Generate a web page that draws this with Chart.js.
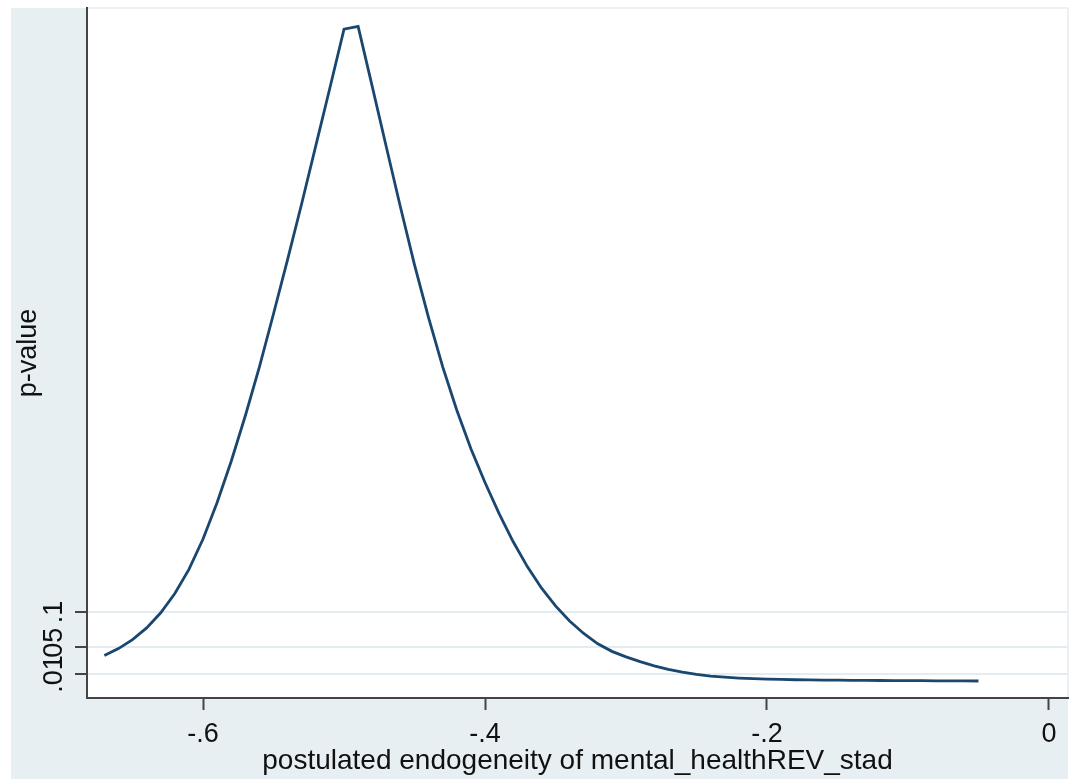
<!DOCTYPE html>
<html>
<head>
<meta charset="utf-8">
<script src="https://cdn.jsdelivr.net/npm/chart.js@4/dist/chart.umd.min.js"></script>
<style>
  html, body { margin: 0; padding: 0; background: #ffffff; }
  #wrap { width: 1074px; height: 779px; position: relative; }
</style>
</head>
<body>
<div id="wrap"><canvas id="c" width="1074" height="779"></canvas></div>
<script>
// postulated endogeneity values (x)
const endogeneity = [-0.67,-0.66,-0.65,-0.64,-0.63,-0.62,-0.61,-0.60,-0.59,-0.58,
  -0.57,-0.56,-0.55,-0.54,-0.53,-0.52,-0.51,-0.50,-0.49,-0.48,
  -0.47,-0.46,-0.45,-0.44,-0.43,-0.42,-0.41,-0.40,-0.39,-0.38,
  -0.37,-0.36,-0.35,-0.34,-0.33,-0.32,-0.31,-0.30,-0.29,-0.28,
  -0.27,-0.26,-0.25,-0.24,-0.23,-0.22,-0.21,-0.20,-0.19,-0.18,
  -0.17,-0.16,-0.15,-0.14,-0.13,-0.12,-0.11,-0.10,-0.09,-0.08,
  -0.07,-0.06,-0.05];
// p-values (y)
const pValues = [0.037,0.047,0.060,0.077,0.099,0.127,0.162,0.206,0.259,0.319,
  0.385,0.456,0.533,0.612,0.693,0.777,0.861,0.946,0.950,0.863,
  0.775,0.688,0.604,0.527,0.456,0.393,0.337,0.288,0.243,0.202,
  0.166,0.135,0.109,0.087,0.069,0.054,0.043,0.035,0.028,0.022,
  0.017,0.013,0.0095,0.0072,0.0055,0.0042,0.0033,0.0027,0.0022,0.0018,
  0.0015,0.0013,0.0011,0.0009,0.0008,0.0007,0.0006,0.0005,0.0004,0.0003,
  0.0002,0.0001,0.0000];
const xTickValues = [-0.6, -0.4, -0.2, 0];
const xTickLabels = ['-.6', '-.4', '-.2', '0'];
const yTickValues = [0.01, 0.05, 0.1];
const yTickLabels = ['.01', '.05', '.1'];
const xTitle = 'postulated endogeneity of mental_healthREV_stad';
const yTitle = 'p-value';

const points = endogeneity.map((x, i) => ({ x: x, y: pValues[i] }));
const FONT = 'Liberation Sans, Arial, Helvetica, sans-serif';

const bgPlugin = {
  id: 'stataBg',
  beforeDraw(chart) {
    const ctx = chart.ctx;
    const a = chart.chartArea;
    ctx.save();
    ctx.fillStyle = '#ffffff';
    ctx.fillRect(0, 0, chart.width, chart.height);
    ctx.fillStyle = '#e8eff2';
    ctx.fillRect(11, a.top, a.right - 11, chart.height - a.top);
    ctx.fillStyle = '#ffffff';
    ctx.fillRect(a.left, a.top, a.right - a.left, a.bottom - a.top);
    ctx.strokeStyle = '#e6edf0';
    ctx.lineWidth = 1.5;
    ctx.strokeRect(a.left, a.top, a.right - a.left, a.bottom - a.top);
    ctx.restore();
  }
};

new Chart(document.getElementById('c'), {
  type: 'line',
  data: {
    datasets: [{
      data: points,
      borderColor: '#1a476f',
      borderWidth: 2.8,
      pointRadius: 0,
      tension: 0,
      fill: false
    }]
  },
  options: {
    responsive: false,
    animation: false,
    layout: { padding: { top: 8, right: 6, left: 0, bottom: 0 } },
    plugins: { legend: { display: false }, tooltip: { enabled: false } },
    scales: {
      x: {
        type: 'linear',
        min: -0.6823,
        max: 0.0135,
        afterBuildTicks(scale) { scale.ticks = xTickValues.map(v => ({ value: v })); },
        afterFit(scale) {
          scale.height = 81;
          scale.paddingLeft = 0; scale.paddingRight = 0;
        },
        ticks: {
          color: '#111111',
          font: { family: FONT, size: 27 },
          padding: 8,
          maxRotation: 0,
          minRotation: 0,
          callback: (v) => xTickLabels[xTickValues.indexOf(Math.round(v * 10) / 10)] ?? ''
        },
        grid: {
          drawOnChartArea: false,
          drawTicks: true,
          tickLength: 12,
          tickWidth: 2,
          tickColor: '#444444'
        },
        border: { display: true, color: '#444444', width: 2 },
        title: {
          display: true,
          text: xTitle,
          color: '#111111',
          font: { family: FONT, size: 28 },
          padding: { top: 0, bottom: 1 }
        }
      },
      y: {
        type: 'linear',
        min: -0.0247,
        max: 0.9768,
        afterBuildTicks(scale) { scale.ticks = yTickValues.map(v => ({ value: v })); },
        afterFit(scale) {
          scale.width = 87;
          scale.paddingTop = 0; scale.paddingBottom = 0;
        },
        ticks: {
          color: '#111111',
          font: { family: FONT, size: 27 },
          padding: 2,
          minRotation: 90,
          maxRotation: 90,
          crossAlign: 'center',
          callback: (v) => {
            const i = yTickValues.findIndex(t => Math.abs(t - v) < 1e-9);
            return i >= 0 ? yTickLabels[i] : '';
          }
        },
        grid: {
          drawOnChartArea: true,
          color: '#e3ecf0',
          lineWidth: 2,
          drawTicks: true,
          tickLength: 12,
          tickWidth: 2,
          tickColor: '#444444'
        },
        border: { display: true, color: '#444444', width: 2 },
        title: {
          display: true,
          text: yTitle,
          color: '#111111',
          font: { family: FONT, size: 27 },
          padding: { top: 12, bottom: 0 }
        }
      }
    }
  },
  plugins: [bgPlugin]
});
</script>
</body>
</html>
